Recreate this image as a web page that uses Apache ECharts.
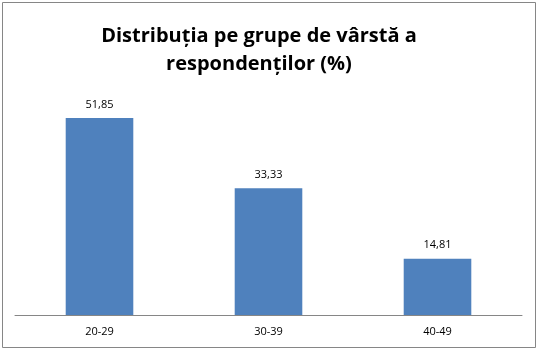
<!DOCTYPE html>
<html>
<head>
<meta charset="utf-8">
<script src="https://cdn.jsdelivr.net/npm/echarts@6/dist/echarts.min.js"></script>
<style>
  html, body { margin: 0; padding: 0; background: #fff; }
  #chart { width: 539px; height: 352px; }
</style>
</head>
<body>
<div id="chart"></div>
<script>
// 年龄组与百分比
var ageGroups = ['20-29', '30-39', '40-49'];
var percentValues = [51.85, 33.33, 14.81];

var chart = echarts.init(document.getElementById('chart'));

var option = {
    backgroundColor: '#fff',
    animation: false,
    title: {
        text: 'Distribuția pe grupe de vârstă a\nrespondenților (%)',
        left: 254,
        textAlign: 'center',
        top: 17,
        textStyle: {
            fontFamily: 'Open Sans',
            fontWeight: 'bold',
            fontSize: 20,
            lineHeight: 28,
            color: '#000'
        }
    },
    graphic: [{
        type: 'rect',
        shape: { x: 2.5, y: 2.5, width: 533, height: 345 },
        style: { fill: 'none', stroke: '#868686', lineWidth: 1 },
        silent: true
    }],
    grid: {
        left: 15,
        right: 17,
        top: 87,
        bottom: 37
    },
    xAxis: {
        type: 'category',
        data: ageGroups,
        axisLine: { lineStyle: { color: '#868686', width: 1 } },
        axisTick: { show: false },
        axisLabel: {
            color: '#000',
            fontFamily: 'Open Sans',
            fontSize: 11,
            margin: 11
        }
    },
    yAxis: {
        type: 'value',
        min: 0,
        max: 60,
        show: false,
        splitLine: { show: false }
    },
    series: [{
        type: 'bar',
        data: percentValues,
        barWidth: '40%',
        itemStyle: { color: '#4F81BD' },
        label: {
            show: true,
            position: 'top',
            distance: 8,
            color: '#000',
            fontFamily: 'Open Sans',
            fontSize: 11,
            formatter: function (p) {
                return p.value.toFixed(2).replace('.', ',');
            }
        }
    }]
};

chart.setOption(option);
</script>
</body>
</html>
